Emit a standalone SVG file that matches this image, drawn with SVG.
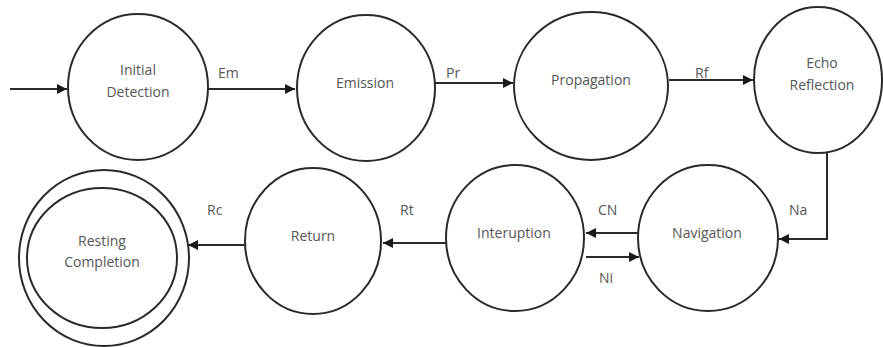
<svg xmlns="http://www.w3.org/2000/svg" width="883" height="347" viewBox="0 0 883 347">
<style>
.st{fill:#fff;stroke:#2a2a2a;stroke-width:2}
.lb{font-family:"Open Sans","Liberation Sans",sans-serif;font-size:14px;fill:#555;text-anchor:middle}
.el{font-family:"Open Sans","Liberation Sans",sans-serif;font-size:14px;fill:#555}
.cn{fill:none;stroke:#2a2a2a;stroke-width:2}
</style>
<defs>
<marker id="ah" viewBox="0 0 10 10" refX="10" refY="5" markerWidth="5" markerHeight="5" orient="auto" markerUnits="strokeWidth">
<path d="M0,0 L10,5 L0,10 z" fill="#1a1a1a"/>
</marker>
</defs>
<rect width="883" height="347" fill="#fff"/>
<g id="connectors">
<line class="cn" x1="10" y1="89" x2="67" y2="89" marker-end="url(#ah)"/>
<line class="cn" x1="207" y1="89" x2="295" y2="89" marker-end="url(#ah)"/>
<line class="cn" x1="435" y1="83" x2="513" y2="83" marker-end="url(#ah)"/>
<line class="cn" x1="669" y1="80" x2="753" y2="80" marker-end="url(#ah)"/>
<polyline class="cn" points="827,153 827,239 779,239" marker-end="url(#ah)"/>
<line class="cn" x1="638" y1="233" x2="586" y2="233" marker-end="url(#ah)"/>
<line class="cn" x1="586" y1="257" x2="639" y2="257" marker-end="url(#ah)"/>
<line class="cn" x1="446" y1="243" x2="383" y2="243" marker-end="url(#ah)"/>
<line class="cn" x1="245" y1="245" x2="188" y2="245" marker-end="url(#ah)"/>
<text class="el" x="218" y="78">Em</text>
<text class="el" x="446" y="78">Pr</text>
<text class="el" x="695" y="78">Rf</text>
<text class="el" x="789" y="215">Na</text>
<text class="el" x="598" y="215">CN</text>
<text class="el" x="599" y="283">Ni</text>
<text class="el" x="400" y="215">Rt</text>
<text class="el" x="207" y="215">Rc</text>
</g>
<g id="initial-detection">
<ellipse class="st" cx="138" cy="87" rx="70" ry="73"/>
<text class="lb" x="138" y="75">Initial</text>
<text class="lb" x="138" y="97">Detection</text>
</g>
<g id="emission">
<ellipse class="st" cx="366" cy="88" rx="69" ry="73"/>
<text class="lb" x="365" y="88">Emission</text>
</g>
<g id="propagation">
<ellipse class="st" cx="591" cy="86" rx="77" ry="74"/>
<text class="lb" x="591" y="85">Propagation</text>
</g>
<g id="echo-reflection">
<ellipse class="st" cx="818" cy="80" rx="64" ry="73"/>
<text class="lb" x="822" y="68">Echo</text>
<text class="lb" x="822" y="90">Reflection</text>
</g>
<g id="navigation">
<ellipse class="st" cx="708" cy="238" rx="70" ry="73"/>
<text class="lb" x="707" y="238">Navigation</text>
</g>
<g id="interuption">
<ellipse class="st" cx="515" cy="238" rx="69" ry="73"/>
<text class="lb" x="514" y="238">Interuption</text>
</g>
<g id="return">
<ellipse class="st" cx="313" cy="241" rx="68" ry="73"/>
<text class="lb" x="313" y="241">Return</text>
</g>
<g id="resting-completion">
<ellipse class="st" cx="104" cy="258" rx="85" ry="88"/>
<ellipse class="st" cx="102" cy="258" rx="75" ry="70"/>
<text class="lb" x="102" y="246">Resting</text>
<text class="lb" x="102" y="267">Completion</text>
</g>
</svg>
